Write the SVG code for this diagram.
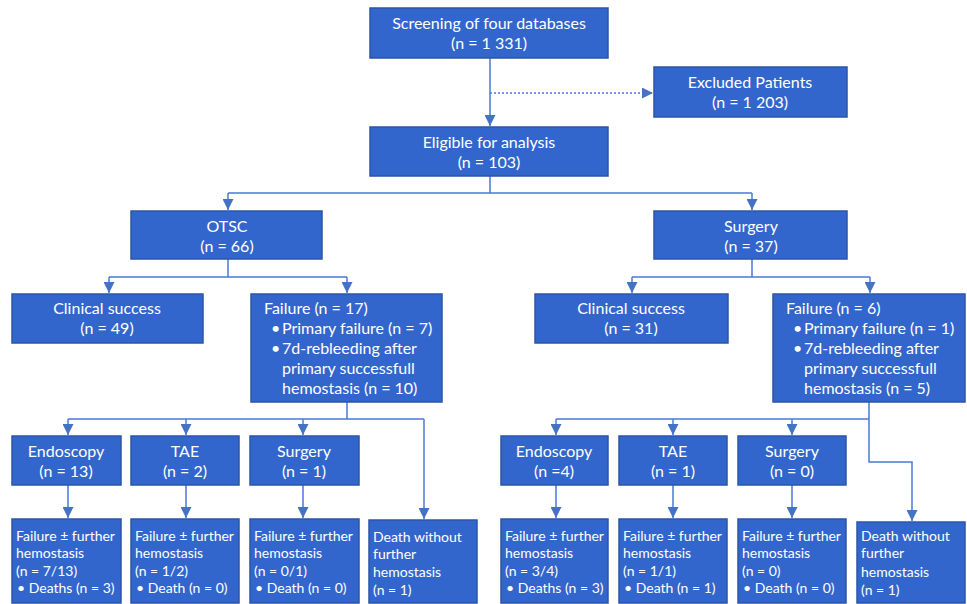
<svg xmlns="http://www.w3.org/2000/svg" width="967" height="604" viewBox="0 0 967 604">
<defs>
<marker id="ah" markerUnits="userSpaceOnUse" markerWidth="12" markerHeight="11" refX="11" refY="5.5" orient="auto">
<path d="M0,0 L11,5.5 L0,11 Z" fill="#4472C4"/>
</marker>
<style>
.box{fill:#3366CC;stroke:#2B55A8;stroke-width:1.5}
.t{font-family:Lato,"Liberation Sans",sans-serif;font-size:16px;fill:#fff}
.c{text-anchor:middle}
.s{font-size:14px}
.ln{fill:none;stroke:#4A7AD6;stroke-width:1.5}
.ar{marker-end:url(#ah)}
.dot{stroke-dasharray:2 2}
</style>
</defs>
<rect width="967" height="604" fill="#fff"/>
<g id="connectors">
<path class="ln ar" d="M490,58 V126"/>
<path class="ln ar dot" d="M490,93 H653"/>
<path class="ln" d="M490,176 V193 M228,193 H752"/>
<path class="ln ar" d="M228,193 V210"/>
<path class="ln ar" d="M752,193 V210"/>
<path class="ln" d="M228,259 V277 M109,277 H347"/>
<path class="ln ar" d="M109,277 V293"/>
<path class="ln ar" d="M347,277 V293"/>
<path class="ln" d="M752,259 V277 M632,277 H870"/>
<path class="ln ar" d="M632,277 V293"/>
<path class="ln ar" d="M870,277 V293"/>
<path class="ln" d="M347,402 V419 M68,419 H424"/>
<path class="ln ar" d="M68,419 V435"/>
<path class="ln ar" d="M186,419 V435"/>
<path class="ln ar" d="M303,419 V435"/>
<path class="ln ar" d="M424,419 V519"/>
<path class="ln ar" d="M68,485 V518"/>
<path class="ln ar" d="M186,485 V518"/>
<path class="ln ar" d="M303,485 V518"/>
<path class="ln" d="M869,402 V419 M556,419 H869"/>
<path class="ln ar" d="M556,419 V435"/>
<path class="ln ar" d="M673,419 V435"/>
<path class="ln ar" d="M792,419 V435"/>
<path class="ln ar" d="M869,419 V462 H912 V521"/>
<path class="ln ar" d="M556,485 V518"/>
<path class="ln ar" d="M673,485 V518"/>
<path class="ln ar" d="M792,485 V518"/>
</g>
<g id="screening"><rect class="box" x="370" y="8" width="238" height="50"/>
<text class="t c" x="489" y="29">Screening of four databases</text><text class="t c" x="489" y="49">(n = 1 331)</text></g>
<g id="excluded"><rect class="box" x="654" y="67" width="193" height="50"/>
<text class="t c" x="750" y="88">Excluded Patients</text><text class="t c" x="750" y="108">(n = 1 203)</text></g>
<g id="eligible"><rect class="box" x="370" y="127" width="238" height="49"/>
<text class="t c" x="489" y="148">Eligible for analysis</text><text class="t c" x="489" y="168">(n = 103)</text></g>
<g id="otsc"><rect class="box" x="131" y="211" width="191" height="48"/>
<text class="t c" x="227" y="232">OTSC</text><text class="t c" x="227" y="252">(n = 66)</text></g>
<g id="surgery"><rect class="box" x="654" y="211" width="193" height="48"/>
<text class="t c" x="751" y="232">Surgery</text><text class="t c" x="751" y="252">(n = 37)</text></g>
<g id="cs1"><rect class="box" x="12" y="294" width="191" height="49"/>
<text class="t c" x="107" y="314">Clinical success</text><text class="t c" x="107" y="334">(n = 49)</text></g>
<g id="fail1"><rect class="box" x="251" y="294" width="191" height="108"/>
<text class="t" x="264" y="314">Failure (n = 17)</text>
<text class="t" x="271" y="334">•</text><text class="t" x="282" y="334">Primary failure (n = 7)</text>
<text class="t" x="271" y="354">•</text><text class="t" x="282" y="354">7d-rebleeding after</text>
<text class="t" x="282" y="374">primary successfull</text>
<text class="t" x="282" y="394">hemostasis (n = 10)</text></g>
<g id="cs2"><rect class="box" x="535" y="294" width="193" height="49"/>
<text class="t c" x="631" y="314">Clinical success</text><text class="t c" x="631" y="334">(n = 31)</text></g>
<g id="fail2"><rect class="box" x="773" y="294" width="192" height="108"/>
<text class="t" x="786" y="314">Failure (n = 6)</text>
<text class="t" x="793" y="334">•</text><text class="t" x="804" y="334">Primary failure (n = 1)</text>
<text class="t" x="793" y="354">•</text><text class="t" x="804" y="354">7d-rebleeding after</text>
<text class="t" x="804" y="374">primary successfull</text>
<text class="t" x="804" y="394">hemostasis (n = 5)</text></g>
<g id="endo1"><rect class="box" x="12" y="436" width="109" height="49"/>
<text class="t c" x="66" y="457">Endoscopy</text><text class="t c" x="66" y="477">(n = 13)</text></g>
<g id="tae1"><rect class="box" x="131" y="436" width="108" height="49"/>
<text class="t c" x="185" y="457">TAE</text><text class="t c" x="185" y="477">(n = 2)</text></g>
<g id="surg1"><rect class="box" x="250" y="436" width="109" height="49"/>
<text class="t c" x="304" y="457">Surgery</text><text class="t c" x="304" y="477">(n = 1)</text></g>
<g id="endo1res"><rect class="box" x="12" y="519" width="109" height="84"/>
<text class="t s" x="16" y="541">Failure ± further</text><text class="t s" x="16" y="558">hemostasis</text><text class="t s" x="16" y="576">(n = 7/13)</text><text class="t s" x="17" y="593">• Deaths (n = 3)</text></g>
<g id="tae1res"><rect class="box" x="131" y="519" width="108" height="84"/>
<text class="t s" x="135" y="541">Failure ± further</text><text class="t s" x="135" y="558">hemostasis</text><text class="t s" x="135" y="576">(n = 1/2)</text><text class="t s" x="136" y="593">• Death (n = 0)</text></g>
<g id="surg1res"><rect class="box" x="250" y="519" width="109" height="84"/>
<text class="t s" x="254" y="541">Failure ± further</text><text class="t s" x="254" y="558">hemostasis</text><text class="t s" x="254" y="576">(n = 0/1)</text><text class="t s" x="255" y="593">• Death (n = 0)</text></g>
<g id="death1"><rect class="box" x="369" y="520" width="108" height="83"/>
<text class="t s" x="373" y="542">Death without</text><text class="t s" x="373" y="559">further</text><text class="t s" x="373" y="577">hemostasis</text><text class="t s" x="373" y="595">(n = 1)</text></g>
<g id="endo2"><rect class="box" x="501" y="436" width="107" height="49"/>
<text class="t c" x="554" y="457">Endoscopy</text><text class="t c" x="554" y="477">(n =4)</text></g>
<g id="tae2"><rect class="box" x="619" y="436" width="108" height="49"/>
<text class="t c" x="673" y="457">TAE</text><text class="t c" x="673" y="477">(n = 1)</text></g>
<g id="surg2"><rect class="box" x="738" y="436" width="108" height="49"/>
<text class="t c" x="792" y="457">Surgery</text><text class="t c" x="792" y="477">(n = 0)</text></g>
<g id="endo2res"><rect class="box" x="501" y="519" width="107" height="84"/>
<text class="t s" x="505" y="541">Failure ± further</text><text class="t s" x="505" y="558">hemostasis</text><text class="t s" x="505" y="576">(n = 3/4)</text><text class="t s" x="506" y="593">• Deaths (n = 3)</text></g>
<g id="tae2res"><rect class="box" x="619" y="519" width="108" height="84"/>
<text class="t s" x="623" y="541">Failure ± further</text><text class="t s" x="623" y="558">hemostasis</text><text class="t s" x="623" y="576">(n = 1/1)</text><text class="t s" x="624" y="593">• Death (n = 1)</text></g>
<g id="surg2res"><rect class="box" x="738" y="519" width="108" height="84"/>
<text class="t s" x="742" y="541">Failure ± further</text><text class="t s" x="742" y="558">hemostasis</text><text class="t s" x="742" y="576">(n = 0)</text><text class="t s" x="743" y="593">• Death (n = 0)</text></g>
<g id="death2"><rect class="box" x="857" y="522" width="108" height="81"/>
<text class="t s" x="861" y="541">Death without</text><text class="t s" x="861" y="558">further</text><text class="t s" x="861" y="577">hemostasis</text><text class="t s" x="861" y="595">(n = 1)</text></g>
</svg>
